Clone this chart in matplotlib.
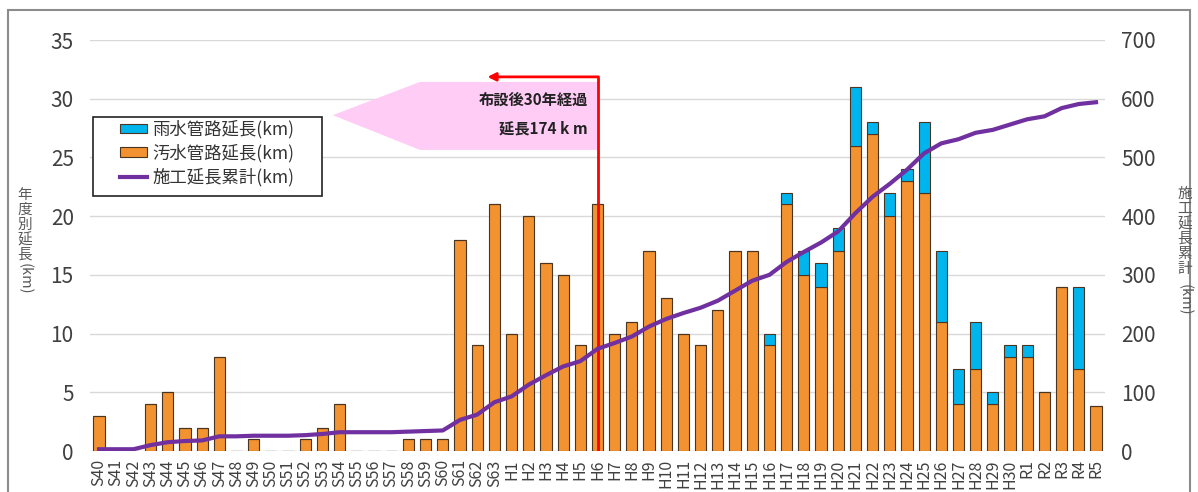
import matplotlib
matplotlib.use("Agg")
import matplotlib.pyplot as plt
from matplotlib.patches import Rectangle, Patch
from matplotlib.lines import Line2D

plt.rcParams['font.family'] = ['Noto Sans CJK JP', 'DejaVu Sans']

categories = (["S%d" % i for i in range(40, 64)] +
              ["H%d" % i for i in range(1, 31)] +
              ["R%d" % i for i in range(1, 6)])

sewage = [3, 0, 0, 4, 5, 2, 2, 8, 0, 1, 0, 0, 1, 2, 4, 0, 0, 0, 1, 1, 1, 18, 9, 21,
          10, 20, 16, 15, 9, 21, 10, 11, 17, 13, 10, 9, 12, 17, 17, 9, 21, 15, 14, 17,
          26, 27, 20, 23, 22, 11, 4, 7, 4, 8,
          8, 5, 14, 7, 3.8]
rain = [0, 0, 0, 0, 0, 0, 0, 0, 0, 0, 0, 0, 0, 0, 0, 0, 0, 0, 0, 0, 0, 0, 0, 0,
        0, 0, 0, 0, 0, 0, 0, 0, 0, 0, 0, 0, 0, 0, 0, 1, 1, 2, 2, 2,
        5, 1, 2, 1, 6, 6, 3, 4, 1, 1,
        1, 0, 0, 7, 0]
cumulative = [3, 3, 3, 10, 15, 17, 18, 25, 25, 26, 26, 26, 27, 29, 32, 32, 32, 32, 33, 34, 35, 53, 62, 83,
              93, 113, 129, 144, 153, 174, 184, 195, 212, 225, 235, 244, 256, 273, 290, 300, 322, 339, 355, 374,
              405, 433, 455, 479, 507, 524, 531, 542, 547, 556,
              565, 570, 584, 591, 594]

left_ticks = [0, 5, 10, 15, 20, 25, 30, 35]
right_ticks = [0, 100, 200, 300, 400, 500, 600, 700]

W, H = 1198, 492
fig = plt.figure(figsize=(W / 100, H / 100), dpi=100)
ax = fig.add_axes([90.4 / W, 1 - 451 / H, (1104.6 - 90.4) / W, (451 - 40) / H])
ax2 = ax.twinx()

c_orange = '#F39230'
c_blue = '#00B4EE'
c_purple = '#7030A0'
edge = '#4a3520'
tcol = '#404040'

x = list(range(len(categories)))
ax.bar(x, sewage, width=0.65, color=c_orange, edgecolor=edge, linewidth=0.8, zorder=3)
ax.bar(x, rain, width=0.65, bottom=sewage, color=c_blue, edgecolor=edge, linewidth=0.8, zorder=3)

ax.set_xlim(-0.5, len(categories) - 0.5)
ax.set_ylim(0, 35)
ax.set_yticks(left_ticks)
ax.grid(axis='y', color='#d9d9d9', linewidth=1, zorder=0)
ax.set_axisbelow(True)
ax.set_xticks(x)
ax.set_xticklabels(categories, rotation=90, fontsize=11.5, color=tcol)
ax.tick_params(axis='x', length=0, pad=6)
ax.tick_params(axis='y', length=0, pad=12, labelsize=15, labelcolor=tcol)
for s in ax.spines.values():
    s.set_visible(False)

ax2.set_ylim(0, 700)
ax2.set_yticks(right_ticks)
ax2.tick_params(axis='y', length=0, pad=12, labelsize=15, labelcolor=tcol)
for s in ax2.spines.values():
    s.set_visible(False)
ax2.plot(x, cumulative, color=c_purple, linewidth=3, zorder=4)

# pink arrow
ax.fill([13.6, 18.67, 29.03, 29.03, 18.67], [28.6, 31.43, 31.43, 25.64, 25.64],
        color='#FFCCF5', linewidth=0, zorder=1)
# red marker line
ax.plot([29, 29], [0, 31.86], color='#FF0000', linewidth=2, zorder=6, solid_capstyle='butt')
ax.annotate('', xy=(22.6, 31.86), xytext=(29.06, 31.86),
            arrowprops=dict(arrowstyle='-|>', color='#FF0000', lw=2, mutation_scale=12,
                            shrinkA=0, shrinkB=0), zorder=6)
ax.text(28.45, 29.9, '布設後30年経過', ha='right', va='center', fontsize=11,
        fontweight='bold', color='#222222', zorder=7)
ax.text(28.45, 27.5, '延長174 k m', ha='right', va='center', fontsize=11,
        fontweight='bold', color='#222222', zorder=7)

# legend (frame drawn separately to match wider padding)
fig.patches.append(Rectangle((93 / W, 1 - 196 / H), (322 - 93) / W, (196 - 117) / H,
                             transform=fig.transFigure, facecolor='white',
                             edgecolor='#222222', linewidth=1.2, zorder=5))
handles = [Patch(facecolor=c_blue, edgecolor=edge, linewidth=0.8),
           Patch(facecolor=c_orange, edgecolor=edge, linewidth=0.8),
           Line2D([0], [0], color=c_purple, linewidth=3)]
labels = ['雨水管路延長(km)', '汚水管路延長(km)', '施工延長累計(km)']
leg = fig.legend(handles, labels, loc='upper left',
                 bbox_to_anchor=(120 / W, 1 - 120 / H), borderaxespad=0,
                 fontsize=12.5, frameon=False,
                 handlelength=1.55, handleheight=0.45, handletextpad=0.3,
                 labelspacing=0.3, borderpad=0)
leg.set_zorder(6)
for t in leg.get_texts():
    t.set_color('#333333')


# axis labels (vertical stacked, one character per position)
def vlabel(xp, chars, y0, step, km_top):
    for i, ch in enumerate(chars):
        fig.text(xp / W, 1 - (y0 + i * step) / H, ch, ha='center', va='center',
                 fontsize=10.5, color='#595959')
    fig.text(xp / W, 1 - km_top / H, '(km)', ha='center', va='top', rotation=270,
             fontsize=10.5, color='#595959')


vlabel(25, '年度別延長', 195, 15, 263)
vlabel(1185, '施工延長累計', 194, 15, 284)

# outer frame
fig.patches.append(Rectangle((8 / W, -0.05), (1190 - 8) / W, 1.05 - 10 / H,
                             transform=fig.transFigure, fill=False,
                             edgecolor='#8c8c8c', linewidth=1.5))

fig.savefig('out.png', dpi=100)
